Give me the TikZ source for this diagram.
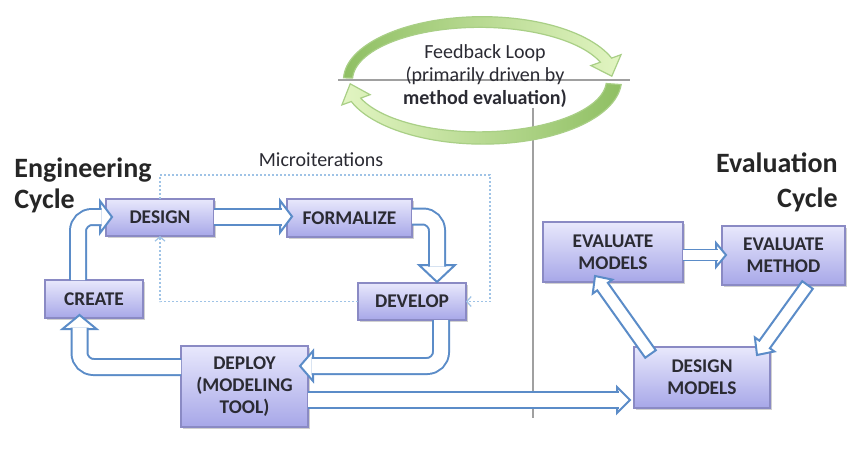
\documentclass[tikz,border=0pt]{standalone}
\usepackage{fontspec}
\setmainfont{Carlito}
\usetikzlibrary{calc,shadows,arrows.meta}

\definecolor{boxtop}{HTML}{E8E8FC}
\definecolor{boxbot}{HTML}{A7A7E8}
\definecolor{boxline}{HTML}{8A8AC4}
\definecolor{arrowblue}{HTML}{5B8CC8}
\definecolor{dotblue}{HTML}{9FC3E6}
\definecolor{textgray}{HTML}{2B2B33}
\definecolor{leafdark}{HTML}{8FBF63}
\definecolor{leaflight}{HTML}{E2F5C2}
\definecolor{leafline}{HTML}{A9CF86}
\definecolor{rulegray}{HTML}{A0A0A0}

% straight block arrow: start, tip, shaft half-width, head half-width, head length
\newcommand\slantarrow[5]{%
  \coordinate (sa-base) at ($(#2)!#5!(#1)$);
  \draw[tiphead] ($(#1)!#3!90:(#2)$) -- ($(sa-base)!#3!90:(#2)$)
    -- ($(sa-base)!#4!90:(#2)$) -- (#2) -- ($(sa-base)!#4!-90:(#2)$)
    -- ($(sa-base)!#3!-90:(#2)$) -- ($(#1)!#3!-90:(#2)$) -- cycle;}

\begin{document}
\begin{tikzpicture}[x=0.5pt,y=-0.5pt,
  stage/.style={draw=boxline, line width=0.6pt, top color=boxtop, bottom color=boxbot,
    font=\bfseries\fontsize{9.7}{11}\selectfont, text=textgray, align=center,
    inner sep=0pt, outer sep=0pt,
    drop shadow={shadow xshift=1pt, shadow yshift=-1.2pt, opacity=0.3, fill=black!60}},
  shaft/.style={draw=arrowblue, line width=1pt, double=white, double distance=7pt,
    rounded corners=7pt, line cap=butt},
  thinshaft/.style={shaft, double distance=4.6pt, line width=0.9pt},
  tiphead/.style={draw=arrowblue, line width=1pt, fill=white, line join=miter},
  dotloop/.style={draw=dotblue, line width=0.6pt, dash pattern=on 1pt off 1pt,
    -{Straight Barb[length=2.2pt,width=5pt]}},
  title/.style={font=\bfseries\fontsize{14}{16}\selectfont, text=black!85, inner sep=0pt},
  plain/.style={font=\fontsize{10}{12}\selectfont, text=textgray, inner sep=0pt},
  rule/.style={draw=rulegray, line width=0.8pt}]

\useasboundingbox (0,0) rectangle (849,454);
\fill[white] (0,0) rectangle (849,454);

% ---- feedback loop -------------------------------------------------------
\draw[rule] (338,80) -- (630,80);
\draw[rule] (533,108) -- (533,418);

% upper arc, tapering towards its start, head pointing down on the right
\path[draw=leafline, line width=0.6pt, left color=leafdark, right color=leaflight]
  plot[domain=178:20, samples=60, variable=\t]
    ({481+(139-1.5*(\t-20)/158)*cos(\t)}, {80-(64-1.5*(\t-20)/158)*sin(\t)})
  -- (621,54.7) -- (611.8,76.2) -- (590.9,65.6)
  -- plot[domain=20:178, samples=60, variable=\t]
    ({481+(127+1.5*(\t-20)/158)*cos(\t)}, {80-(52+1.5*(\t-20)/158)*sin(\t)})
  -- cycle;

% lower arc, head pointing up on the left
\path[draw=leafline, line width=0.6pt, left color=leaflight, right color=leafdark]
  plot[domain=-4:-160, samples=60, variable=\t]
    ({481+(140.5-2.5*(-\t-4)/156)*cos(\t)}, {80-(65.5-2.5*(-\t-4)/156)*sin(\t)})
  -- (341.9,104.9) -- (350.2,83.8) -- (370.1,94.7)
  -- plot[domain=-160:-4, samples=60, variable=\t]
    ({481+(125.5+2.5*(-\t-4)/156)*cos(\t)}, {80-(50.5+2.5*(-\t-4)/156)*sin(\t)})
  -- cycle;

\node[plain, align=center, font=\fontsize{10}{11.3}\selectfont] (fbtext) at (485,76)
  {Feedback Loop\\(primarily driven by\\\textbf{method evaluation)}};

% ---- titles --------------------------------------------------------------
\node[title, anchor=base west] (engt) at (14,177) {Engineering};
\node[title, anchor=base west] (engc) at (14,208) {Cycle};
\node[title, anchor=base east] (evt) at (838,173) {Evaluation};
\node[title, anchor=base east] (evc) at (838,207) {Cycle};
\node[plain, anchor=base] (micro) at (321,167) {Microiterations};

% ---- stages --------------------------------------------------------------
\node[stage, minimum width=54pt, minimum height=18.5pt] (design) at (160,217.5) {DESIGN};
\node[stage, minimum width=62.5pt, minimum height=19pt] (formalize) at (349.5,218) {FORMALIZE};
\node[stage, minimum width=49pt, minimum height=19pt] (create) at (94,299) {CREATE};
\node[stage, minimum width=54pt, minimum height=18.5pt] (develop) at (412,301.5) {DEVELOP};
\node[stage, minimum width=63.5pt, minimum height=40.5pt] (deploy) at (244.5,386.5)
  {DEPLOY\\(MODELING\\TOOL)};
\node[stage, minimum width=70pt, minimum height=30pt] (evalmodels) at (613,252)
  {EVALUATE\\MODELS};
\node[stage, minimum width=61.5pt, minimum height=29.5pt] (evalmethod) at (783.5,255.5)
  {EVALUATE\\METHOD};
\node[stage, minimum width=68pt, minimum height=30.5pt] (designmodels) at (702,377.5)
  {DESIGN\\MODELS};

% ---- microiteration loop -------------------------------------------------
\draw[dotloop] (design.north) |- ($(develop.east)+(24,-126.5)$) |- (develop.east);
\draw[dotloop] (develop.west) -| (design.south);

% ---- engineering cycle ---------------------------------------------------
% create -> design
\draw[tiphead] ($(design.west)+(6,-0.5)$) -- ++(-12,-16) -- ++(0,32) -- cycle;
\draw[shaft] ($(create.north)+(-16,0)$) |- ($(design.west)+(-4.5,-0.5)$);
% design -> formalize
\draw[tiphead] ($(formalize.west)+(5,-1.5)$) -- ++(-12,-16) -- ++(0,32) -- cycle;
\draw[shaft] ($(design.east)+(0,-1)$) -- ($(formalize.west)+(-5.5,-1.5)$);
% formalize -> develop
\draw[tiphead] ($(develop.north)+(25,-1)$) -- ++(-18,-17) -- ++(36,0) -- cycle;
\draw[shaft] ($(formalize.east)+(0,-1.5)$) -| ($(develop.north)+(25,-16.5)$);
% develop -> deploy
\draw[tiphead] ($(deploy.east)+(-8,-20.5)$) -- ++(13,-15) -- ++(0,30) -- cycle;
\draw[shaft] ($(develop.south)+(29,0)$) |- ($(deploy.east)+(3.5,-20.5)$);
% deploy -> create
\draw[tiphead] ($(create.south)+(-14.5,-3)$) -- ++(-17,14) -- ++(34,0) -- cycle;
\draw[shaft] ($(deploy.west)+(0,-19.5)$) -| ($(create.south)+(-14.5,9.5)$);
% deploy -> design models
\draw[tiphead] ($(designmodels.west)+(-4,22.5)$) -- ++(-13,-13) -- ++(0,26) -- cycle;
\draw[shaft] ($(deploy.east)+(0,13.5)$) -- ($(designmodels.west)+(-15.5,22.5)$);

% ---- evaluation cycle ----------------------------------------------------
% evaluate models -> evaluate method
\draw[tiphead] ($(evalmethod.west)+(4,-0.5)$) -- ++(-10,-12) -- ++(0,24) -- cycle;
\draw[thinshaft] ($(evalmodels.east)+(0,3)$) -- ($(evalmethod.west)+(-4.5,-0.5)$);
% evaluate method -> design models
\coordinate (emd-s) at ($(evalmethod.south)+(24,0)$);
\coordinate (emd-t) at ($(designmodels.north)+(55,8)$);
\slantarrow{emd-s}{emd-t}{3.25pt}{6pt}{6.5pt}
% design models -> evaluate models
\coordinate (dme-s) at ($(designmodels.north)+(-51.5,7)$);
\coordinate (dme-t) at ($(evalmodels.south)+(-18,-6)$);
\slantarrow{dme-s}{dme-t}{3.25pt}{6pt}{6.5pt}

\end{tikzpicture}
\end{document}
